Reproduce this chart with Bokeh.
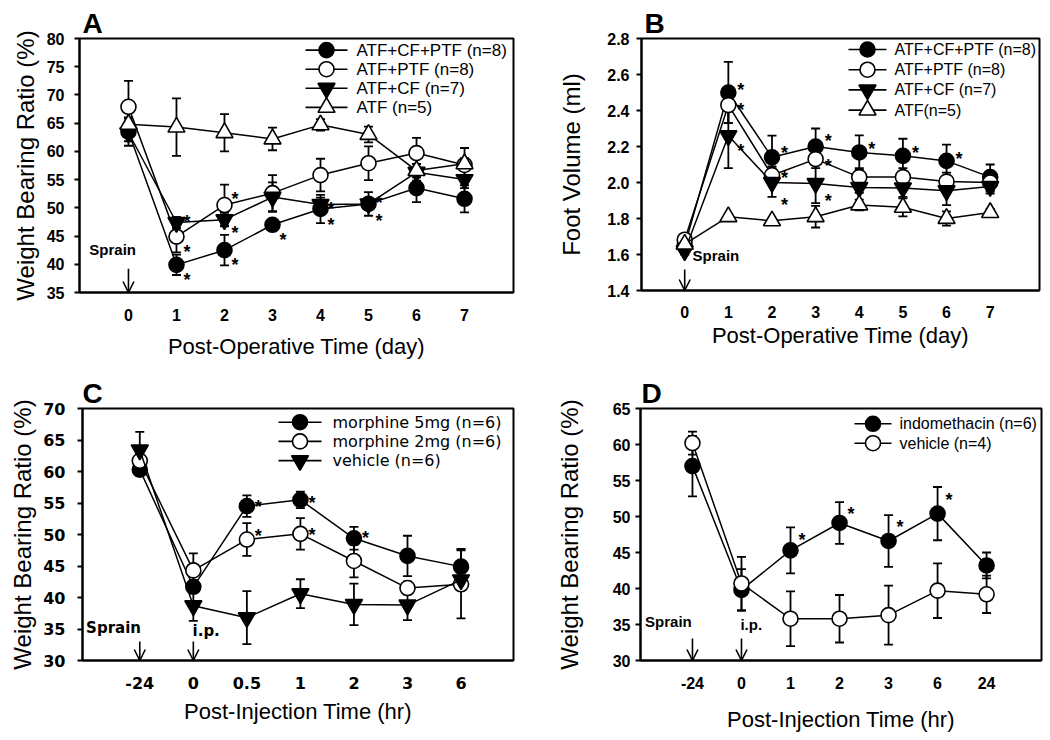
from bokeh.plotting import figure
from bokeh.models import (ColumnDataSource, Range1d, FixedTicker, Whisker, TeeHead,
                          Arrow, OpenHead, Label, PrintfTickFormatter)
from bokeh.layouts import column, row
from bokeh.embed import file_html
from bokeh.resources import INLINE
from bokeh.core.properties import value

FONT = "Liberation Sans"

# ---------------- data ----------------
# Panel A: weight bearing ratio (%) vs post-operative day
a_days = [0, 1, 2, 3, 4, 5, 6, 7]
a_atf_cf_ptf = [63.5, 39.9, 42.5, 47.0, 49.8, 50.7, 53.5, 51.6]
a_atf_cf_ptf_err = [2.5, 1.8, 2.7, 1.0, 2.5, 2.1, 2.5, 2.4]
a_atf_ptf = [67.9, 44.9, 50.5, 52.6, 55.8, 57.9, 59.7, 57.6]
a_atf_ptf_err = [4.6, 2.8, 3.6, 3.2, 2.9, 3.0, 2.7, 3.0]
a_atf_cf = [63.3, 47.4, 47.9, 51.9, 50.6, 50.7, 56.3, 55.0]
a_atf_cf_err = [1.5, 1.0, 1.2, 2.6, 1.2, 1.0, 1.5, 1.5]
a_atf = [64.8, 64.3, 63.3, 62.2, 64.7, 63.0, 56.6, 57.8]
a_atf_err = [1.0, 5.1, 3.3, 2.0, 1.0, 1.4, 1.2, 1.0]
a_star_day = [1, 1, 1, 2, 2, 2, 3, 4, 4, 5, 5]
a_star_y = [49.2, 44.0, 39.0, 53.3, 47.4, 41.7, 46.0, 51.6, 48.7, 52.7, 49.5]

# Panel B: foot volume (ml) vs post-operative day
b_days = [0, 1, 2, 3, 4, 5, 6, 7]
b_atf_cf_ptf = [1.648, 2.50, 2.14, 2.20, 2.167, 2.148, 2.12, 2.03]
b_atf_cf_ptf_err = [0.02, 0.17, 0.12, 0.10, 0.095, 0.095, 0.09, 0.07]
b_atf_ptf = [1.682, 2.43, 2.04, 2.13, 2.03, 2.03, 2.005, 2.0]
b_atf_ptf_err = [0.02, 0.10, 0.05, 0.05, 0.05, 0.05, 0.05, 0.05]
b_atf_cf = [1.62, 2.26, 2.0, 1.995, 1.972, 1.97, 1.954, 1.978]
b_atf_cf_err = [0.02, 0.18, 0.08, 0.11, 0.03, 0.05, 0.08, 0.04]
b_atf = [1.657, 1.81, 1.787, 1.81, 1.875, 1.862, 1.80, 1.833]
b_atf_err = [0.02, 0.01, 0.01, 0.06, 0.03, 0.05, 0.04, 0.02]
b_star_day = [1, 1, 1, 2, 2, 2, 3, 3, 3, 4, 5, 6]
b_star_y = [2.568, 2.457, 2.23, 2.222, 2.083, 1.93, 2.287, 2.148, 1.954, 2.24, 2.222, 2.185]

# Panel C: weight bearing ratio (%) vs post-injection time (hr), morphine
c_labels = ["-24", "0", "0.5", "1", "2", "3", "6"]
c_m5 = [60.3, 41.7, 54.5, 55.5, 49.4, 46.6, 44.9]
c_m5_err = [1.0, 1.0, 1.7, 1.3, 1.8, 3.2, 2.8]
c_m2 = [61.7, 44.3, 49.2, 50.1, 45.8, 41.5, 42.1]
c_m2_err = [1.0, 2.7, 2.6, 2.5, 2.6, 1.0, 5.4]
c_veh = [63.4, 38.7, 36.8, 40.6, 38.9, 38.8, 42.8]
c_veh_err = [2.9, 2.4, 4.2, 2.3, 3.3, 2.4, 1.0]
c_star_idx = [2, 2, 3, 3, 4]
c_star_y = [55.9, 51.3, 56.6, 51.5, 51.0]

# Panel D: weight bearing ratio (%) vs post-injection time (hr), indomethacin
d_labels = ["-24", "0", "1", "2", "3", "6", "24"]
d_indo = [57.0, 39.8, 45.3, 49.1, 46.6, 50.4, 43.2]
d_indo_err = [4.2, 2.9, 3.2, 2.9, 3.6, 3.7, 1.8]
d_veh = [60.2, 40.7, 35.8, 35.8, 36.3, 39.7, 39.2]
d_veh_err = [1.6, 3.7, 3.8, 3.3, 4.1, 3.8, 2.6]
d_star_idx = [2, 3, 4, 5]
d_star_y = [48.1, 51.8, 50.0, 53.7]


# ---------------- helpers ----------------
def make_fig(xr, yr, fw, fh, borders, letter, letter_offset):
    l, r, t, b = borders
    p = figure(frame_width=fw, frame_height=fh, x_range=Range1d(*xr), y_range=Range1d(*yr),
               min_border_left=l, min_border_right=r, min_border_top=t, min_border_bottom=b,
               output_backend="svg", toolbar_location=None, background_fill_color="white",
               border_fill_color="white", title=letter)
    p.title.text_font = FONT
    p.title.text_font_size = "28px"
    p.title.text_font_style = "bold"
    p.title.text_color = "black"
    p.title.align = "left"
    p.title.offset = letter_offset
    p.title.standoff = 0
    p.xgrid.visible = False
    p.ygrid.visible = False
    p.outline_line_color = "black"
    p.outline_line_width = 2
    p.outline_line_alpha = 1
    for ax in (p.xaxis[0], p.yaxis[0]):
        ax.axis_line_width = 2
        ax.axis_line_color = "black"
        ax.minor_tick_line_color = None
        ax.major_label_text_color = "black"
        ax.major_label_text_font = FONT
        ax.major_label_text_font_style = "bold"
        ax.major_label_text_font_size = "16px"
        ax.axis_label_text_color = "black"
        ax.axis_label_text_font = FONT
        ax.axis_label_text_font_style = "normal"
    p.xaxis.major_tick_line_color = None
    p.xaxis.major_tick_out = 0
    p.xaxis.major_tick_in = 0
    p.xaxis.axis_label_text_font_size = "22px"
    p.yaxis.major_tick_out = 5
    p.yaxis.major_tick_in = 0
    p.yaxis.major_tick_line_width = 2
    p.yaxis.axis_label_text_font_size = "24px"
    return p


def add_series(p, x, y, err, marker, fill, size):
    src = ColumnDataSource(dict(x=x, y=y,
                                lo=[v - e for v, e in zip(y, err)],
                                hi=[v + e for v, e in zip(y, err)]))
    w = Whisker(source=src, base="x", upper="hi", lower="lo", line_color="black", line_width=1.8,
                upper_head=TeeHead(size=9, line_width=1.8, line_color="black"),
                lower_head=TeeHead(size=9, line_width=1.8, line_color="black"),
                level="underlay")
    p.add_layout(w)
    p.line("x", "y", source=src, line_color="black", line_width=1.5)
    p.scatter("x", "y", source=src, marker=marker, size=size, fill_color=fill,
              line_color="black", line_width=1.6)


def add_stars(p, xs, ys, x_off):
    src = ColumnDataSource(dict(x=xs, y=ys, t=["*"] * len(xs)))
    p.text("x", "y", text="t", source=src, text_font=value(FONT), text_font_style="bold",
           text_font_size="18px", text_color="black", text_align="left",
           text_baseline="alphabetic", x_offset=x_off, y_offset=10)


def key(p, xr, yr, fw, fh, entries, glyph_left, glyph_w, standoff, first_center, pitch,
        font, size):
    """Legend drawn inside the frame; pixel layout converted through the panel's ranges."""
    def dx(px):
        return xr[0] + px / fw * (xr[1] - xr[0])

    def dy(py):
        return yr[1] - py / fh * (yr[1] - yr[0])

    for i, (label, marker, fill, msize) in enumerate(entries):
        y = dy(first_center + i * pitch)
        x0, x1 = dx(glyph_left), dx(glyph_left + glyph_w)
        p.line([x0, x1], [y, y], line_color="black", line_width=1.6)
        p.scatter([(x0 + x1) / 2], [y], marker=marker, size=msize, fill_color=fill,
                  line_color="black", line_width=1.6)
        p.text([x1], [y], text=[label], text_font=value(font), text_font_size=size,
               text_color="black", text_align="left", text_baseline="middle",
               x_offset=standoff)


def note(p, x, y, text, font, size, align="center"):
    p.add_layout(Label(x=x, y=y, text=text, text_font=font, text_font_style="bold",
                       text_font_size=size, text_color="black", text_align=align,
                       text_baseline="middle"))


def down_arrow(p, x, y0, y1):
    p.add_layout(Arrow(x_start=x, y_start=y0, x_end=x, y_end=y1, line_width=1.6,
                       line_color="black",
                       end=OpenHead(size=11, line_width=1.6, line_color="black")))


# ---------------- Panel A ----------------
A_X, A_Y, A_W, A_H = (-1.02, 8.02), (35, 80), 434, 254
pa = make_fig(A_X, A_Y, A_W, A_H, (79, 42, 38, 78), "A", 3)
add_series(pa, a_days, a_atf_cf_ptf, a_atf_cf_ptf_err, "circle", "black", 15)
add_series(pa, a_days, a_atf_ptf, a_atf_ptf_err, "circle", "white", 15)
add_series(pa, a_days, a_atf_cf, a_atf_cf_err, "inverted_triangle", "black", 17)
add_series(pa, a_days, a_atf, a_atf_err, "triangle", "white", 17)
add_stars(pa, a_star_day, a_star_y, 7)
key(pa, A_X, A_Y, A_W, A_H,
    [("ATF+CF+PTF (n=8)", "circle", "black", 15), ("ATF+PTF (n=8)", "circle", "white", 15),
     ("ATF+CF (n=7)", "inverted_triangle", "black", 17), ("ATF (n=5)", "triangle", "white", 17)],
    226, 42, 9, 11.6, 19.1, FONT, "17px")
pa.xaxis.ticker = FixedTicker(ticks=a_days)
pa.yaxis.ticker = FixedTicker(ticks=list(range(35, 81, 5)))
pa.xaxis.axis_label = "Post-Operative Time (day)"
pa.yaxis.axis_label = "Weight Bearing Ratio (%)"
pa.xaxis.major_label_standoff = 16
pa.xaxis.axis_label_standoff = 10
pa.yaxis.major_label_standoff = 10
pa.yaxis.axis_label_standoff = 5
note(pa, -0.33, 42.6, "Sprain", FONT, "15px")
down_arrow(pa, 0, 39.2, 35)

# ---------------- Panel B ----------------
B_X, B_Y, B_W, B_H = (-0.99, 8.13), (1.4, 2.8), 398, 252
pb = make_fig(B_X, B_Y, B_W, B_H, (85, 8, 36, 82), "B", 3)
add_series(pb, b_days, b_atf_cf_ptf, b_atf_cf_ptf_err, "circle", "black", 15)
add_series(pb, b_days, b_atf_ptf, b_atf_ptf_err, "circle", "white", 15)
add_series(pb, b_days, b_atf_cf, b_atf_cf_err, "inverted_triangle", "black", 17)
add_series(pb, b_days, b_atf, b_atf_err, "triangle", "white", 17)
add_stars(pb, b_star_day, b_star_y, 9)
key(pb, B_X, B_Y, B_W, B_H,
    [("ATF+CF+PTF (n=8)", "circle", "black", 15), ("ATF+PTF (n=8)", "circle", "white", 15),
     ("ATF+CF (n=7)", "inverted_triangle", "black", 17), ("ATF(n=5)", "triangle", "white", 17)],
    207, 38, 8, 11.0, 20.2, FONT, "16px")
pb.xaxis.ticker = FixedTicker(ticks=b_days)
pb.yaxis.ticker = FixedTicker(ticks=[1.4, 1.6, 1.8, 2.0, 2.2, 2.4, 2.6, 2.8])
pb.yaxis.formatter = PrintfTickFormatter(format="%.1f")
pb.xaxis.axis_label = "Post-Operative Time (day)"
pb.yaxis.axis_label = "Foot Volume (ml)"
pb.xaxis.major_label_standoff = 15
pb.xaxis.axis_label_standoff = 2
pb.yaxis.major_label_standoff = 7
pb.yaxis.axis_label_standoff = 19
note(pb, 0.18, 1.595, "Sprain", FONT, "15px", align="left")
down_arrow(pb, 0, 1.517, 1.4)

# ---------------- Panel C ----------------
c_x = list(range(len(c_labels)))
C_X, C_Y, C_W, C_H = (-1.07, 6.98), (30, 70), 431, 252
pc = make_fig(C_X, C_Y, C_W, C_H, (82, 39, 38, 76), "C", 0)
add_series(pc, c_x, c_m5, c_m5_err, "circle", "black", 15)
add_series(pc, c_x, c_m2, c_m2_err, "circle", "white", 15)
add_series(pc, c_x, c_veh, c_veh_err, "inverted_triangle", "black", 17)
add_stars(pc, c_star_idx, c_star_y, 8)
key(pc, C_X, C_Y, C_W, C_H,
    [("morphine 5mg (n=6)", "circle", "black", 15), ("morphine 2mg (n=6)", "circle", "white", 15),
     ("vehicle (n=6)", "inverted_triangle", "black", 17)],
    196, 43, 11, 13.7, 19.2, "DejaVu Sans", "16px")
pc.xaxis.ticker = FixedTicker(ticks=c_x)
pc.xaxis.major_label_overrides = {i: s for i, s in zip(c_x, c_labels)}
pc.yaxis.ticker = FixedTicker(ticks=list(range(30, 71, 5)))
for ax in (pc.xaxis[0], pc.yaxis[0]):
    ax.major_label_text_font = "DejaVu Sans"
pc.xaxis.axis_label = "Post-Injection Time (hr)"
pc.yaxis.axis_label = "Weight Bearing Ratio (%)"
pc.xaxis.major_label_standoff = 16
pc.xaxis.axis_label_standoff = 7
pc.yaxis.major_label_standoff = 12
pc.yaxis.axis_label_standoff = 4
note(pc, -0.49, 35.2, "Sprain", "DejaVu Sans", "15px")
note(pc, 1.24, 34.7, "i.p.", "DejaVu Sans", "15px")
down_arrow(pc, 0, 33.0, 30)
down_arrow(pc, 1, 33.0, 30)

# ---------------- Panel D ----------------
d_x = list(range(len(d_labels)))
D_X, D_Y, D_W, D_H = (-1.06, 7.12), (30, 65), 401, 252
pd_ = make_fig(D_X, D_Y, D_W, D_H, (85, 8, 38, 76), "D", 1)
add_series(pd_, d_x, d_indo, d_indo_err, "circle", "black", 15)
add_series(pd_, d_x, d_veh, d_veh_err, "circle", "white", 15)
add_stars(pd_, d_star_idx, d_star_y, 8)
key(pd_, D_X, D_Y, D_W, D_H,
    [("indomethacin (n=6)", "circle", "black", 15), ("vehicle (n=4)", "circle", "white", 15)],
    214, 37, 8, 15.3, 19.4, FONT, "16px")
pd_.xaxis.ticker = FixedTicker(ticks=d_x)
pd_.xaxis.major_label_overrides = {i: s for i, s in zip(d_x, d_labels)}
pd_.yaxis.ticker = FixedTicker(ticks=list(range(30, 66, 5)))
pd_.xaxis.axis_label = "Post-Injection Time (hr)"
pd_.yaxis.axis_label = "Weight Bearing Ratio (%)"
pd_.xaxis.major_label_standoff = 16
pd_.xaxis.axis_label_standoff = 15
pd_.yaxis.major_label_standoff = 5
pd_.yaxis.axis_label_standoff = 27
note(pd_, -0.49, 35.45, "Sprain", FONT, "15px")
note(pd_, 1.2, 35.0, "i.p.", FONT, "15px")
down_arrow(pd_, 0, 33.05, 30)
down_arrow(pd_, 1, 33.05, 30)

layout = column(row(pa, pb, spacing=0), row(pc, pd_, spacing=0), spacing=0)
open("out.html", "w").write(file_html(layout, INLINE))
